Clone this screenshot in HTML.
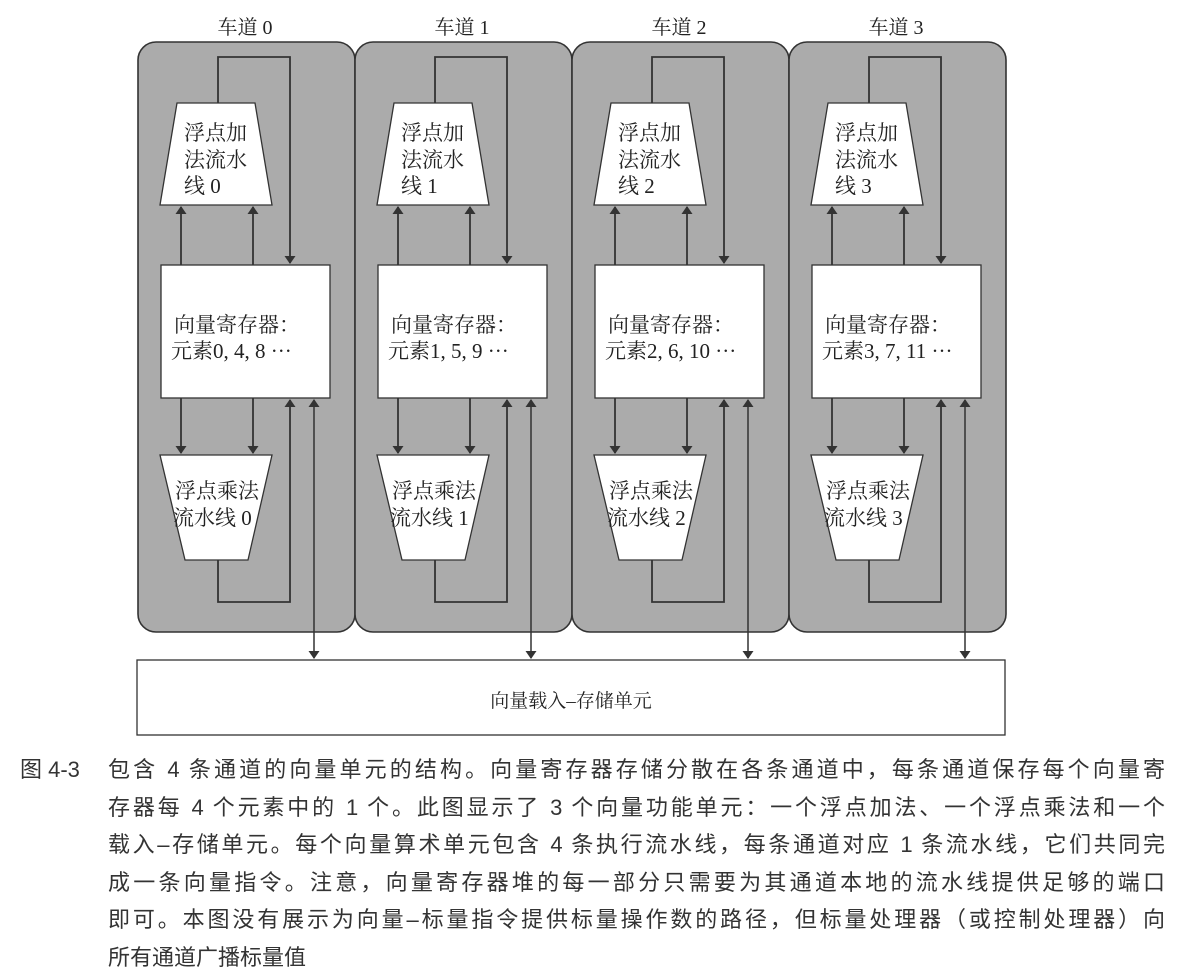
<!DOCTYPE html>
<html><head><meta charset="utf-8"><style>
body{margin:0;background:#fff;width:1177px;height:974px;overflow:hidden;font-family:"Liberation Serif","Noto Serif CJK SC",serif;}
.cap{position:absolute;left:0;top:751px;font-family:"Liberation Sans","Noto Sans CJK SC",sans-serif;font-size:22px;color:#333;line-height:37.5px;}
.cap div{white-space:nowrap;position:relative}
.j{display:block;margin-left:108px;width:1057px;text-align:justify;text-align-last:justify;white-space:normal!important}
</style></head><body>
<svg width="1177" height="974" style="position:absolute;left:0;top:0" font-family="'Liberation Serif','Noto Serif CJK SC',serif">
<defs>
<marker id="a" markerWidth="8" markerHeight="11" refX="7" refY="5.5" orient="auto" markerUnits="userSpaceOnUse"><path d="M0,0 L8,5.5 L0,11 z" fill="#333"/></marker>
<marker id="b" markerWidth="8" markerHeight="11" refX="1" refY="5.5" orient="auto" markerUnits="userSpaceOnUse"><path d="M8,0 L0,5.5 L8,11 z" fill="#333"/></marker>
<g id="lane">
<rect x="138" y="42" width="217" height="590" rx="18" fill="#ababab" stroke="#333" stroke-width="1.6"/>
<path d="M218,103 V57 H290 V263" fill="none" stroke="#333" stroke-width="1.8" marker-end="url(#a)"/>
<polygon points="177,103 255,103 272,205 160,205" fill="#fff" stroke="#333" stroke-width="1.3"/>
<line x1="181" y1="265" x2="181" y2="207" stroke="#333" stroke-width="1.8" marker-end="url(#a)"/>
<line x1="253" y1="265" x2="253" y2="207" stroke="#333" stroke-width="1.8" marker-end="url(#a)"/>
<rect x="161" y="265" width="169" height="133" fill="#fff" stroke="#333" stroke-width="1.3"/>
<line x1="181" y1="398" x2="181" y2="453" stroke="#333" stroke-width="1.8" marker-end="url(#a)"/>
<line x1="253" y1="398" x2="253" y2="453" stroke="#333" stroke-width="1.8" marker-end="url(#a)"/>
<polygon points="160,455 272,455 248,560 185,560" fill="#fff" stroke="#333" stroke-width="1.3"/>
<path d="M218,560 V602 H290 V400" fill="none" stroke="#333" stroke-width="1.8" marker-end="url(#a)"/>
<line x1="314" y1="400" x2="314" y2="658" stroke="#333" stroke-width="1.5" marker-start="url(#b)" marker-end="url(#a)"/>
</g>
</defs>
<use href="#lane"/>
<use href="#lane" x="217"/>
<use href="#lane" x="434"/>
<use href="#lane" x="651"/>
<rect x="137" y="660" width="868" height="75" fill="#fff" stroke="#333" stroke-width="1.3"/>
<g font-size="20" fill="#222">
<text x="245" y="34" text-anchor="middle">车道 0</text>
<text x="462" y="34" text-anchor="middle">车道 1</text>
<text x="679" y="34" text-anchor="middle">车道 2</text>
<text x="896" y="34" text-anchor="middle">车道 3</text>
<text x="571" y="707" text-anchor="middle" font-size="19">向量载入–存储单元</text>
</g>
<g font-size="21" fill="#222">
<text x="184" y="140">浮点加</text><text x="184" y="167">法流水</text><text x="184" y="193">线 0</text>
<text x="401" y="140">浮点加</text><text x="401" y="167">法流水</text><text x="401" y="193">线 1</text>
<text x="618" y="140">浮点加</text><text x="618" y="167">法流水</text><text x="618" y="193">线 2</text>
<text x="835" y="140">浮点加</text><text x="835" y="167">法流水</text><text x="835" y="193">线 3</text>
<text x="174" y="332">向量寄存器：</text><text x="171" y="358">元素0, 4, 8 ···</text>
<text x="391" y="332">向量寄存器：</text><text x="388" y="358">元素1, 5, 9 ···</text>
<text x="608" y="332">向量寄存器：</text><text x="605" y="358">元素2, 6, 10 ···</text>
<text x="825" y="332">向量寄存器：</text><text x="822" y="358">元素3, 7, 11 ···</text>
<text x="175" y="498">浮点乘法</text><text x="173" y="525">流水线 0</text>
<text x="392" y="498">浮点乘法</text><text x="390" y="525">流水线 1</text>
<text x="609" y="498">浮点乘法</text><text x="607" y="525">流水线 2</text>
<text x="826" y="498">浮点乘法</text><text x="824" y="525">流水线 3</text>
</g>
</svg>
<div class="cap">
<div><span style="position:absolute;left:20px;top:0">图 4-3</span><span class="j">包含 4 条通道的向量单元的结构。向量寄存器存储分散在各条通道中，每条通道保存每个向量寄</span></div>
<div><span class="j">存器每 4 个元素中的 1 个。此图显示了 3 个向量功能单元：一个浮点加法、一个浮点乘法和一个</span></div>
<div><span class="j">载入–存储单元。每个向量算术单元包含 4 条执行流水线，每条通道对应 1 条流水线，它们共同完</span></div>
<div><span class="j">成一条向量指令。注意，向量寄存器堆的每一部分只需要为其通道本地的流水线提供足够的端口</span></div>
<div><span class="j">即可。本图没有展示为向量–标量指令提供标量操作数的路径，但标量处理器（或控制处理器）向</span></div>
<div><span style="margin-left:108px">所有通道广播标量值</span></div>
</div>
</body></html>
